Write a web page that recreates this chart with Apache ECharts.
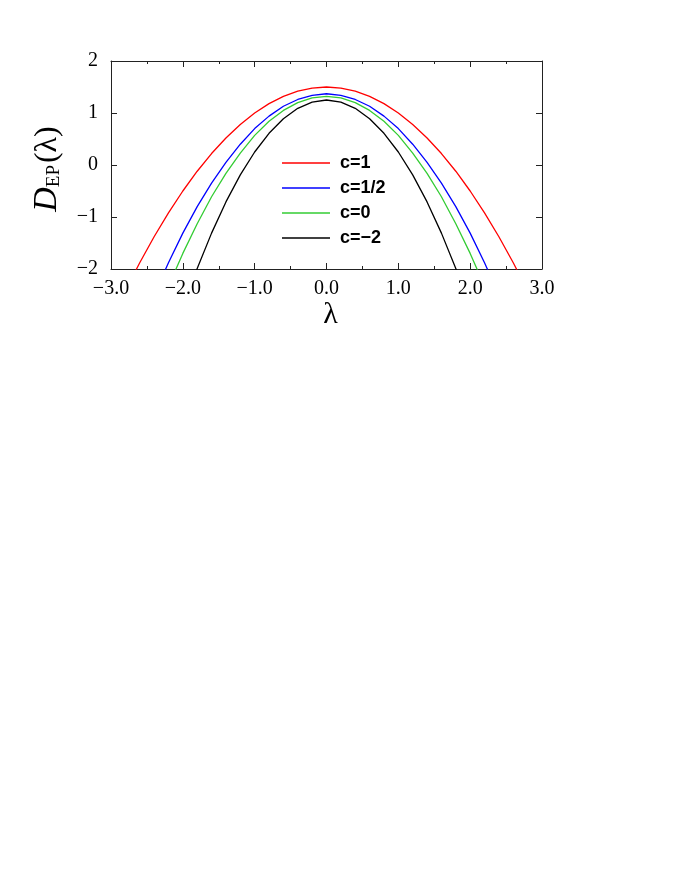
<!DOCTYPE html>
<html>
<head>
<meta charset="utf-8">
<script src="https://cdn.jsdelivr.net/npm/echarts@6/dist/echarts.min.js"></script>
<style>
html,body{margin:0;padding:0;background:#fff;}
#c{width:673px;height:871px;}
</style>
</head>
<body>
<div id="c"></div>
<script>
const lambda = [-3.0,-2.8,-2.6,-2.4,-2.2,-2.0,-1.8,-1.6,-1.4,-1.2,-1.0,-0.8,-0.6,-0.4,-0.2,0.0,0.2,0.4,0.6,0.8,1.0,1.2,1.4,1.6,1.8,2.0,2.2,2.4,2.6,2.8,3.0];
const seriesNames = ['c=1','c=1/2','c=0','c=\u22122'];
const c1 = [-3.00,-2.42,-1.88,-1.38,-0.92,-0.50,-0.12,0.22,0.52,0.78,1.00,1.18,1.32,1.42,1.48,1.50,1.48,1.42,1.32,1.18,1.00,0.78,0.52,0.22,-0.12,-0.50,-0.92,-1.38,-1.88,-2.42,-3.00];
const cHalf = [-4.67,-3.89,-3.17,-2.50,-1.88,-1.31,-0.80,-0.35,0.05,0.40,0.70,0.94,1.13,1.26,1.34,1.37,1.34,1.26,1.13,0.94,0.70,0.40,0.05,-0.35,-0.80,-1.31,-1.88,-2.50,-3.17,-3.89,-4.67];
const c0 = [-5.48,-4.60,-3.78,-3.03,-2.33,-1.70,-1.13,-0.61,-0.16,0.23,0.57,0.84,1.05,1.20,1.29,1.32,1.29,1.20,1.05,0.84,0.57,0.23,-0.16,-0.61,-1.13,-1.70,-2.33,-3.03,-3.78,-4.60,-5.48];
const cm2 = [-7.75,-6.59,-5.51,-4.51,-3.59,-2.75,-1.99,-1.31,-0.71,-0.19,0.25,0.61,0.89,1.09,1.21,1.25,1.21,1.09,0.89,0.61,0.25,-0.19,-0.71,-1.31,-1.99,-2.75,-3.59,-4.51,-5.51,-6.59,-7.75];
const colors = ['#ff0000','#0000ff','#33cc33','#000000'];
const allVals = [c1, cHalf, c0, cm2];

const chart = echarts.init(document.getElementById('c'));
const serif = '"Liberation Serif", "DejaVu Serif", serif';
const axisColor = '#222';
function fmtX(v){ return (v < 0 ? '\u2212' : '') + Math.abs(v).toFixed(1); }
function fmtY(v){ return (v < 0 ? '\u2212' : '') + Math.abs(v); }

const baseX = {
  type: 'value', min: -3, max: 3, interval: 1,
  axisLine: {show: true, onZero: false, lineStyle: {color: axisColor, width: 1}},
  axisTick: {show: true, inside: true, length: 6, lineStyle: {color: axisColor}},
  minorTick: {show: true, splitNumber: 2, length: 3, lineStyle: {color: axisColor}},
  splitLine: {show: false}
};
const baseY = {
  type: 'value', min: -2, max: 2, interval: 1,
  axisLine: {show: true, onZero: false, lineStyle: {color: axisColor, width: 1}},
  axisTick: {show: true, inside: true, length: 6, lineStyle: {color: axisColor}},
  splitLine: {show: false}
};

chart.setOption({
  animation: false,
  backgroundColor: '#fff',
  grid: {left: 111, right: 131, top: 61, bottom: 602, containLabel: false},
  xAxis: [
    Object.assign({}, baseX, {
      position: 'bottom',
      axisLabel: {formatter: fmtX, fontFamily: serif, fontSize: 20, color: '#000', margin: 10},
      name: '\u03bb', nameLocation: 'middle', nameGap: 30,
      nameTextStyle: {fontFamily: serif, fontSize: 30, color: '#000', padding: [0,0,0,8]}
    }),
    Object.assign({}, baseX, {position: 'top', axisLabel: {show: false}})
  ],
  yAxis: [
    Object.assign({}, baseY, {
      position: 'left',
      axisLabel: {formatter: fmtY, fontFamily: serif, fontSize: 20, color: '#000', margin: 13},
      name: '{d|D}{s|EP}{p|(\u03bb)}', nameLocation: 'middle', nameRotate: 90, nameGap: 47,
      nameTextStyle: {
        color: '#000',
        padding: [0,8,0,0],
        rich: {
          d: {fontFamily: serif, fontStyle: 'italic', fontSize: 34, color: '#000', lineHeight: 36, verticalAlign: 'bottom'},
          s: {fontFamily: serif, fontSize: 19, color: '#000', lineHeight: 36, verticalAlign: 'bottom', padding: [0,2,0,0]},
          p: {fontFamily: serif, fontSize: 32, color: '#000', lineHeight: 36, verticalAlign: 'bottom'}
        }
      }
    }),
    Object.assign({}, baseY, {position: 'right', axisLabel: {show: false}})
  ],
  legend: {
    orient: 'vertical', left: 282, top: 153, padding: 0,
    icon: 'rect', itemWidth: 48, itemHeight: 1.3, itemGap: 5,
    data: seriesNames,
    textStyle: {fontFamily: '"Liberation Sans", Arial, sans-serif', fontWeight: 'bold', fontSize: 18, color: '#000', lineHeight: 20, padding: [0,0,0,5]}
  },
  series: allVals.map((vals, i) => ({
    name: seriesNames[i],
    type: 'line',
    xAxisIndex: 0, yAxisIndex: 0,
    data: lambda.map((x, j) => [x, vals[j]]),
    showSymbol: false, symbol: 'none',
    clip: true,
    lineStyle: {color: colors[i], width: 1.3},
    itemStyle: {color: colors[i]}
  }))
});
</script>
</body>
</html>
